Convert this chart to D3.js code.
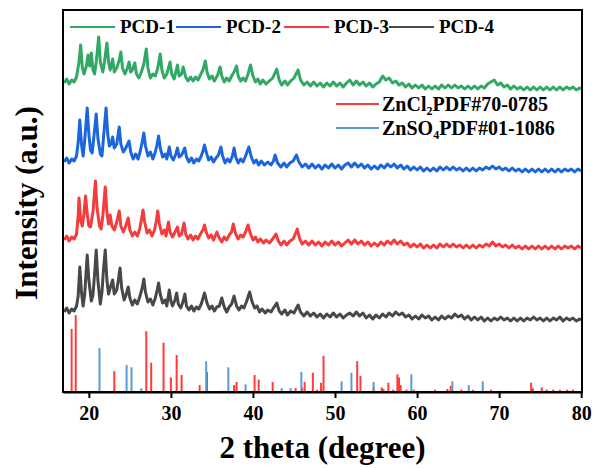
<!DOCTYPE html>
<html>
<head>
<meta charset="utf-8">
<script src="https://cdn.jsdelivr.net/npm/d3@7"></script>
<style>
  html, body { margin: 0; padding: 0; background: #fff; }
  svg { display: block; }
  text { font-family: "Liberation Serif", "Times New Roman", serif; font-weight: bold; fill: #000; }
</style>
</head>
<body>
<svg id="chart" width="595" height="468"></svg>
<script>
// XRD patterns, [2θ (deg), intensity (a.u., stacked)]
const pcd1 = [[17.0,309],[17.3,313],[17.6,308],[17.9,312],[18.2,310],[18.5,315],[18.8,330],[19.0,347],[19.2,325],[19.4,318],[19.7,326],[19.9,337],[20.1,326],[20.3,339],[20.5,322],[20.7,318],[20.9,330],[21.2,355],[21.4,330],[21.7,320],[21.9,330],[22.2,349],[22.4,330],[22.6,322],[22.9,333],[23.1,320],[23.4,324],[23.7,332],[23.9,340],[24.1,324],[24.4,318],[24.7,324],[24.9,330],[25.1,320],[25.3,322],[25.6,329],[25.8,318],[26.1,314],[26.4,320],[26.7,328],[27.0,343],[27.2,324],[27.5,314],[27.8,318],[28.1,316],[28.4,324],[28.7,338],[28.9,322],[29.2,314],[29.5,318],[29.9,330],[30.1,318],[30.4,313],[30.6,320],[30.8,327],[31.0,316],[31.3,318],[31.5,325],[31.8,315],[32.1,311],[32.4,315],[32.7,311],[33.0,315],[33.3,312],[33.6,317],[33.9,322],[34.2,331],[34.4,320],[34.7,313],[35.0,316],[35.3,311],[35.7,317],[36.0,325],[36.2,316],[36.5,310],[36.8,314],[37.1,311],[37.4,316],[37.7,320],[38.0,326],[38.2,316],[38.5,311],[38.8,314],[39.1,311],[39.4,318],[39.7,327],[40.0,316],[40.3,310],[40.6,313],[40.9,308],[41.2,312],[41.6,308],[42.0,311],[42.4,314],[42.9,323],[43.2,312],[43.5,307],[43.9,311],[44.2,307],[44.6,311],[45.0,314],[45.5,322],[45.8,312],[46.2,307],[46.6,310],[47.0,306],[47.4,310],[47.8,306],[48.2,309],[48.6,305],[49.0,309],[49.4,306],[49.8,310],[50.2,306],[50.6,309],[51.0,305],[51.4,309],[51.8,312],[52.2,307],[52.6,311],[53.0,307],[53.4,310],[53.8,306],[54.2,309],[54.6,305],[55.0,308],[55.4,310],[55.8,316],[56.2,312],[56.6,314],[57.0,309],[57.4,311],[57.8,307],[58.2,309],[58.6,305],[59.0,308],[59.4,304],[59.8,307],[60.2,304],[60.6,307],[61.0,303],[61.4,306],[61.8,303],[62.2,306],[62.6,303],[63.0,307],[63.4,304],[63.8,307],[64.2,304],[64.6,307],[65.0,304],[65.4,306],[65.8,303],[66.2,306],[66.6,303],[67.0,306],[67.4,303],[67.8,306],[68.2,304],[68.6,308],[69.0,310],[69.4,312],[69.8,307],[70.2,309],[70.6,305],[71.0,307],[71.4,303],[71.8,306],[72.2,303],[72.6,305],[73.0,302],[73.4,305],[73.8,302],[74.2,305],[74.6,302],[75.0,305],[75.4,302],[75.8,305],[76.2,302],[76.6,305],[77.0,302],[77.4,305],[77.8,302],[78.2,305],[78.6,303],[79.0,305],[79.4,302],[79.8,304],[80.0,303]];

const pcd2 = [[17.0,230],[17.3,234],[17.6,229],[17.9,233],[18.2,231],[18.5,236],[18.7,250],[18.9,272],[19.1,248],[19.3,236],[19.5,252],[19.8,284],[20.0,258],[20.2,242],[20.4,239],[20.6,254],[20.9,278],[21.1,254],[21.4,238],[21.6,236],[21.8,256],[22.1,284],[22.3,258],[22.5,246],[22.7,248],[22.9,255],[23.1,244],[23.4,248],[23.7,265],[23.9,248],[24.2,240],[24.5,244],[24.9,251],[25.1,240],[25.4,233],[25.7,238],[26.0,233],[26.3,242],[26.5,250],[26.7,259],[26.9,246],[27.2,236],[27.5,240],[27.8,233],[28.1,240],[28.3,247],[28.5,256],[28.7,244],[29.0,235],[29.3,238],[29.5,233],[29.8,245],[30.0,236],[30.3,232],[30.6,238],[30.8,244],[31.0,235],[31.3,237],[31.7,244],[31.9,235],[32.2,230],[32.5,234],[32.8,229],[33.1,233],[33.4,231],[33.7,236],[33.9,241],[34.1,247],[34.3,240],[34.6,232],[34.9,235],[35.2,230],[35.5,234],[35.8,237],[36.1,245],[36.3,236],[36.6,229],[36.9,233],[37.2,230],[37.5,236],[37.7,244],[37.9,235],[38.2,229],[38.5,233],[38.8,230],[39.1,236],[39.5,245],[39.8,235],[40.1,229],[40.4,232],[40.7,227],[41.0,231],[41.4,227],[41.8,230],[42.2,227],[42.5,231],[42.7,237],[43.0,229],[43.4,225],[43.8,229],[44.1,225],[44.5,229],[44.9,231],[45.3,237],[45.6,230],[46.0,225],[46.4,228],[46.8,224],[47.2,228],[47.6,224],[48.0,227],[48.4,223],[48.8,227],[49.2,224],[49.6,228],[50.0,224],[50.4,227],[50.8,223],[51.2,227],[51.6,229],[52.0,225],[52.4,229],[52.8,225],[53.2,228],[53.6,224],[54.0,227],[54.4,223],[54.8,226],[55.2,223],[55.6,227],[56.0,224],[56.4,228],[56.8,225],[57.2,228],[57.6,224],[58.0,227],[58.4,223],[58.8,226],[59.2,222],[59.6,225],[60.0,222],[60.4,225],[60.8,221],[61.2,224],[61.6,221],[62.0,224],[62.4,221],[62.8,225],[63.2,222],[63.6,225],[64.0,222],[64.4,225],[64.8,222],[65.2,224],[65.6,221],[66.0,224],[66.4,221],[66.8,224],[67.2,221],[67.6,224],[68.0,222],[68.4,225],[68.8,223],[69.2,226],[69.6,223],[70.0,225],[70.4,222],[70.8,224],[71.2,221],[71.6,224],[72.0,221],[72.4,223],[72.8,220],[73.2,223],[73.6,220],[74.0,223],[74.4,220],[74.8,223],[75.2,220],[75.6,223],[76.0,220],[76.4,223],[76.8,220],[77.2,223],[77.6,220],[78.0,223],[78.4,221],[78.8,223],[79.2,220],[79.6,223],[80.0,221]];

const pcd3 = [[17.0,152],[17.3,156],[17.6,151],[17.9,155],[18.2,153],[18.5,158],[18.7,176],[18.8,194],[19.0,172],[19.2,166],[19.4,178],[19.6,196],[19.8,178],[20.0,166],[20.2,165],[20.5,180],[20.8,211],[21.0,184],[21.3,166],[21.5,163],[21.7,176],[22.0,205],[22.2,180],[22.4,168],[22.6,177],[22.8,166],[23.1,162],[23.4,170],[23.7,181],[23.9,166],[24.2,160],[24.5,166],[24.8,174],[25.0,162],[25.3,156],[25.6,160],[25.9,156],[26.2,163],[26.4,172],[26.6,182],[26.8,170],[27.1,159],[27.4,162],[27.7,156],[28.0,162],[28.2,170],[28.4,181],[28.6,168],[28.9,158],[29.2,162],[29.4,156],[29.7,170],[29.9,160],[30.2,155],[30.5,160],[30.8,165],[31.0,156],[31.3,158],[31.6,169],[31.8,158],[32.1,153],[32.4,157],[32.7,152],[33.0,156],[33.3,153],[33.6,158],[33.9,162],[34.1,167],[34.3,160],[34.6,154],[34.9,157],[35.2,152],[35.6,160],[35.9,154],[36.2,150],[36.5,155],[36.8,152],[37.1,157],[37.4,160],[37.6,168],[37.9,158],[38.2,153],[38.5,157],[38.8,155],[39.1,160],[39.4,167],[39.7,158],[40.0,152],[40.3,155],[40.6,150],[40.9,153],[41.3,149],[41.6,152],[42.0,149],[42.4,153],[42.8,158],[43.1,151],[43.4,147],[43.8,151],[44.1,147],[44.5,151],[44.9,153],[45.4,163],[45.7,153],[46.0,148],[46.4,151],[46.8,147],[47.2,151],[47.6,147],[48.0,150],[48.4,146],[48.8,150],[49.2,147],[49.6,151],[50.0,147],[50.4,150],[50.8,146],[51.2,149],[51.6,152],[52.0,148],[52.4,152],[52.8,148],[53.2,151],[53.6,147],[54.0,150],[54.4,146],[54.8,149],[55.2,146],[55.6,150],[56.0,147],[56.4,151],[56.8,148],[57.2,152],[57.6,148],[58.0,151],[58.4,147],[58.8,149],[59.2,145],[59.6,148],[60.0,145],[60.4,148],[60.8,144],[61.2,147],[61.6,144],[62.0,147],[62.4,144],[62.8,148],[63.2,145],[63.6,148],[64.0,145],[64.4,148],[64.8,145],[65.2,147],[65.6,144],[66.0,147],[66.4,144],[66.8,147],[67.2,144],[67.6,147],[68.0,145],[68.4,148],[68.8,146],[69.2,150],[69.6,146],[70.0,148],[70.4,145],[70.8,147],[71.2,144],[71.6,147],[72.0,144],[72.4,146],[72.8,143],[73.2,146],[73.6,143],[74.0,146],[74.4,143],[74.8,146],[75.2,143],[75.6,146],[76.0,143],[76.4,146],[76.8,143],[77.2,146],[77.6,143],[78.0,146],[78.4,144],[78.8,146],[79.2,143],[79.6,146],[80.0,144]];

const pcd4 = [[17.0,80],[17.3,84],[17.6,79],[17.9,83],[18.2,81],[18.5,86],[18.7,96],[18.9,125],[19.1,100],[19.3,86],[19.5,98],[19.8,137],[20.0,112],[20.3,91],[20.5,97],[20.7,118],[20.9,142],[21.1,112],[21.4,88],[21.6,100],[21.8,124],[22.0,142],[22.2,112],[22.4,98],[22.6,104],[22.9,112],[23.1,98],[23.4,102],[23.6,112],[23.8,124],[24.0,104],[24.3,92],[24.5,96],[24.8,105],[25.0,94],[25.3,87],[25.6,92],[25.9,88],[26.2,95],[26.5,104],[26.7,113],[26.9,100],[27.2,90],[27.5,93],[27.8,87],[28.1,94],[28.3,101],[28.5,109],[28.7,98],[29.0,89],[29.3,92],[29.5,86],[29.8,102],[30.0,91],[30.2,86],[30.5,92],[30.7,99],[30.9,88],[31.2,84],[31.5,91],[31.7,98],[31.9,86],[32.2,82],[32.5,86],[32.8,81],[33.1,85],[33.4,83],[33.7,88],[34.1,99],[34.4,89],[34.7,83],[35.0,86],[35.3,81],[35.6,85],[35.9,86],[36.2,94],[36.5,85],[36.8,80],[37.1,85],[37.4,88],[37.7,96],[38.0,86],[38.3,82],[38.6,86],[38.9,84],[39.2,90],[39.6,100],[39.9,90],[40.2,84],[40.5,86],[40.8,80],[41.1,83],[41.5,79],[41.8,82],[42.2,80],[42.5,84],[42.9,89],[43.2,81],[43.5,78],[43.9,82],[44.2,77],[44.6,81],[45.0,79],[45.5,87],[45.8,80],[46.2,76],[46.6,80],[47.0,76],[47.4,79],[47.8,75],[48.2,78],[48.6,74],[49.0,78],[49.4,75],[49.8,79],[50.2,75],[50.6,78],[51.0,74],[51.4,77],[51.8,79],[52.2,76],[52.6,80],[53.0,76],[53.4,79],[53.8,74],[54.2,77],[54.6,73],[55.0,77],[55.4,74],[55.8,78],[56.2,75],[56.6,79],[57.0,76],[57.4,80],[57.8,77],[58.2,79],[58.6,75],[59.0,77],[59.4,73],[59.8,76],[60.2,73],[60.6,77],[61.0,74],[61.4,76],[61.8,72],[62.2,75],[62.6,72],[63.0,76],[63.4,73],[63.8,76],[64.2,74],[64.6,78],[65.0,75],[65.4,77],[65.8,73],[66.2,76],[66.6,72],[67.0,75],[67.4,72],[67.8,75],[68.2,71],[68.6,74],[69.0,71],[69.4,74],[69.8,72],[70.2,75],[70.6,72],[71.0,74],[71.4,71],[71.8,74],[72.2,71],[72.6,74],[73.0,71],[73.4,74],[73.8,72],[74.2,75],[74.6,72],[75.0,74],[75.4,71],[75.8,74],[76.2,71],[76.6,74],[77.0,72],[77.4,75],[77.8,71],[78.2,74],[78.6,72],[79.0,74],[79.4,71],[79.8,73],[80.0,72]];

// Reference stick patterns, [2θ (deg), relative intensity %]
const zncl2Ref = [[17.9,82],[18.4,100],[23.1,27],[27.0,79],[27.6,38],[29.1,64],[30.0,19],[30.7,48],[31.3,22],[33.5,9],[34.4,26],[36.3,1.5],[37.7,9],[38.0,13],[40.2,22],[40.7,16],[42.4,13],[45.2,5],[46.0,6],[46.3,13],[47.3,25],[47.8,3],[48.3,12],[48.6,47],[52.7,40],[53.1,21],[54.7,6],[55.7,6],[55.9,4],[56.5,12],[57.1,3],[57.6,23],[57.8,19],[58.0,9],[58.7,3],[59.6,3],[60.8,1.5],[62.2,3],[63.7,4],[64.1,8],[65.4,3],[66.8,3],[69.0,3],[70.1,1.5],[70.9,1.5],[73.9,12],[74.1,5],[75.2,6],[75.8,3],[76.6,3],[77.4,3],[78.3,3],[79.0,3]];
const znso4Ref = [[21.3,57],[24.6,35],[25.2,32],[26.4,5],[34.3,40],[37.0,32],[39.1,10],[43.5,5],[44.6,5],[45.9,26],[50.8,14],[52.0,25],[54.7,13],[59.3,23],[64.3,14],[66.3,9],[68.0,14]];

const xTicks = [20, 30, 40, 50, 60, 70, 80];
const seriesNames = ["PCD-1", "PCD-2", "PCD-3", "PCD-4"];
const seriesColors = ["#31a965", "#1c66dc", "#f53c3c", "#484848"];
const refNames = [["ZnCl", "2", "PDF#70-0785"], ["ZnSO", "4", "PDF#01-1086"]];
const refColors = ["#ff3b3b", "#5b9bd5"];

const W = 595, H = 468;
const margin = { top: 10, right: 13, bottom: 76, left: 63 };
const svg = d3.select("#chart");

const x = d3.scaleLinear().domain([16.85, 80.1]).range([margin.left, W - margin.right]);
const y = d3.scaleLinear().domain([0, 382]).range([H - margin.bottom, margin.top]);
// sticks occupy the lowest band of the panel
const yRef = d3.scaleLinear().domain([0, 100]).range([y(0), y(77)]);

const line = d3.line().x(d => x(d[0])).y(d => y(d[1]));

// reference sticks
const sticks = svg.append("g");
[zncl2Ref, znso4Ref].forEach((ref, i) => {
  sticks.append("g").selectAll("line").data(ref).join("line")
    .attr("x1", d => x(d[0])).attr("x2", d => x(d[0]))
    .attr("y1", yRef(0)).attr("y2", d => yRef(d[1]))
    .attr("stroke", refColors[i]).attr("stroke-width", 2);
});

// diffraction patterns
[pcd1, pcd2, pcd3, pcd4].forEach((s, i) => {
  svg.append("path").datum(s)
    .attr("d", line)
    .attr("fill", "none")
    .attr("stroke", seriesColors[i])
    .attr("stroke-width", 3)
    .attr("stroke-linejoin", "round");
});

// frame
svg.append("rect")
  .attr("x", x.range()[0]).attr("y", y.range()[1])
  .attr("width", x.range()[1] - x.range()[0])
  .attr("height", y.range()[0] - y.range()[1])
  .attr("fill", "none").attr("stroke", "#000").attr("stroke-width", 2);

// x axis
const xAxis = svg.append("g")
  .attr("transform", `translate(0,${y(0)})`)
  .call(d3.axisBottom(x).tickValues(xTicks).tickSize(6).tickSizeOuter(0).tickPadding(8));
xAxis.select(".domain").attr("stroke", "#000").attr("stroke-width", 2);
xAxis.selectAll(".tick line").attr("stroke", "#000").attr("stroke-width", 2);
xAxis.selectAll(".tick text")
  .attr("font-family", "Liberation Serif, Times New Roman, serif")
  .attr("font-weight", "bold").attr("font-size", 20).attr("fill", "#000");

// axis titles
svg.append("text")
  .attr("x", (x.range()[0] + x.range()[1]) / 2).attr("y", 458)
  .attr("text-anchor", "middle").attr("font-size", 31)
  .text("2 theta (degree)");
svg.append("text")
  .attr("transform", `translate(37,${(y.range()[0] + y.range()[1]) / 2 + 2}) rotate(-90)`)
  .attr("text-anchor", "middle").attr("font-size", 31)
  .text("Intensity (a.u.)");

// series legend (one row)
const legend = svg.append("g");
const legendStarts = [70, 176, 284, 389];
seriesNames.forEach((name, i) => {
  const gx = legendStarts[i];
  legend.append("line")
    .attr("x1", gx).attr("x2", gx + 45).attr("y1", 27).attr("y2", 27)
    .attr("stroke", seriesColors[i]).attr("stroke-width", 2);
  legend.append("text")
    .attr("x", gx + 50).attr("y", 33).attr("font-size", 19)
    .text(name);
});

// reference legend
const refLegend = svg.append("g");
refNames.forEach((parts, i) => {
  const ly = 104 + i * 24;
  refLegend.append("line")
    .attr("x1", 336).attr("x2", 379).attr("y1", ly).attr("y2", ly)
    .attr("stroke", refColors[i]).attr("stroke-width", 2);
  const t = refLegend.append("text").attr("x", 382).attr("y", ly + 7).attr("font-size", 20);
  t.append("tspan").text(parts[0]);
  t.append("tspan").attr("font-size", 12).attr("dy", 4).text(parts[1]);
  t.append("tspan").attr("dy", -4).text(parts[2]);
});
</script>
</body>
</html>
